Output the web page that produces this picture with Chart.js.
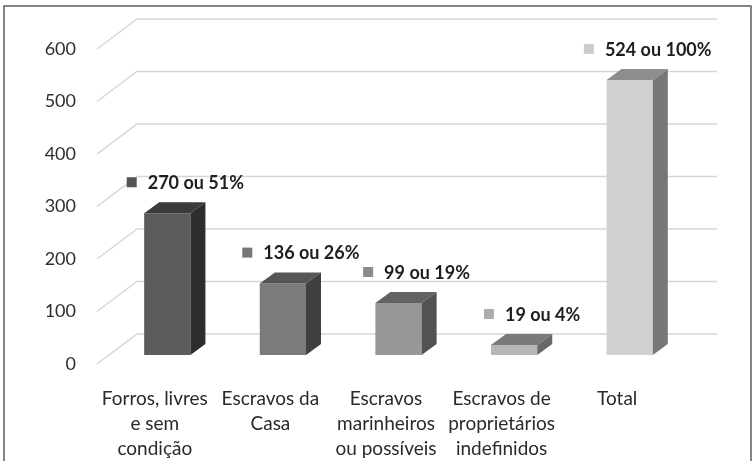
<!DOCTYPE html>
<html>
<head>
<meta charset="utf-8">
<script src="https://cdn.jsdelivr.net/npm/chart.js@4.4.1/dist/chart.umd.min.js"></script>
<style>
  html, body { margin: 0; padding: 0; background: #fff; }
  #wrap { width: 755px; height: 461px; }
</style>
</head>
<body>
<div id="wrap"><canvas id="grafico" width="755" height="461"></canvas></div>
<script>
// categorias (rótulos em várias linhas)
const categorias = [
    ['Forros, livres', 'e sem', 'condição'],
    ['Escravos da', 'Casa'],
    ['Escravos', 'marinheiros', 'ou possíveis'],
    ['Escravos de', 'proprietários', 'indefinidos'],
    'Total'
];
const valores = [270, 136, 99, 19, 524];
const percentuais = [51, 26, 19, 4, 100];
const yTicks = [0, 100, 200, 300, 400, 500, 600];

// cores: frente, topo e lado de cada barra
const corFrente = ['#5b5b5b', '#7b7b7b', '#979797', '#b6b6b6', '#d0d0d0'];
const corTopo = ['#3c3c3c', '#555555', '#626262', '#7a7a7a', '#8d8d8d'];
const corLado = ['#2d2d2d', '#404040', '#525252', '#686868', '#777777'];
const corMarca = ['#555555', '#777777', '#8a8a8a', '#adadad', '#cccccc'];

// profundidade do efeito 3D
const prof = { dx: 15, dy: -11 };
const desloc = { dx: 12.5, dy: -9 };

const efeito3d = {
    id: 'efeito3d',
    beforeDraw(chart) {
        const ctx = chart.ctx;
        const a = chart.chartArea;
        const y = chart.scales.y;
        ctx.save();
        // moldura
        ctx.strokeStyle = '#5c5c5c';
        ctx.lineWidth = 1.5;
        ctx.beginPath();
        ctx.moveTo(4, 461);
        ctx.lineTo(4, 6);
        ctx.lineTo(751, 6);
        ctx.lineTo(751, 461);
        ctx.stroke();
        // grade: parede do fundo
        ctx.strokeStyle = '#d6d6d6';
        ctx.lineWidth = 1.5;
        yTicks.forEach(v => {
            const py = y.getPixelForValue(v);
            ctx.beginPath();
            ctx.moveTo(a.left, py);
            ctx.lineTo(a.left + 40, py - 30);
            ctx.lineTo(a.right + 42, py - 30);
            ctx.stroke();
        });
        ctx.restore();
    },
    beforeDatasetsDraw(chart) {
        chart.ctx.save();
        chart.ctx.translate(desloc.dx, desloc.dy);
    },
    afterDatasetsDraw(chart) {
        const ctx = chart.ctx;
        chart.getDatasetMeta(0).data.forEach((bar, i) => {
            const l = bar.x - bar.width / 2, r = bar.x + bar.width / 2;
            const t = bar.y, b = bar.base;
            ctx.fillStyle = corTopo[i];
            ctx.beginPath();
            ctx.moveTo(l, t);
            ctx.lineTo(l + prof.dx, t + prof.dy);
            ctx.lineTo(r + prof.dx, t + prof.dy);
            ctx.lineTo(r, t);
            ctx.closePath();
            ctx.fill();
            ctx.fillStyle = corLado[i];
            ctx.beginPath();
            ctx.moveTo(r, t);
            ctx.lineTo(r + prof.dx, t + prof.dy);
            ctx.lineTo(r + prof.dx, b + prof.dy);
            ctx.lineTo(r, b);
            ctx.closePath();
            ctx.fill();
        });
        ctx.restore();
    },
    afterDraw(chart) {
        // rótulos de dados com marca quadrada
        const ctx = chart.ctx;
        ctx.save();
        ctx.font = 'bold 18px Lato';
        ctx.textBaseline = 'middle';
        ctx.textAlign = 'left';
        chart.getDatasetMeta(0).data.forEach((bar, i) => {
            const texto = valores[i] + ' ou ' + percentuais[i] + '%';
            const w = 10 + 11 + ctx.measureText(texto).width;
            const cx = bar.x + desloc.dx + 18;
            const cy = bar.y + desloc.dy - 31;
            const x0 = cx - w / 2;
            ctx.fillStyle = corMarca[i];
            ctx.fillRect(x0, cy - 5, 10, 10);
            ctx.fillStyle = '#1e1e1e';
            ctx.fillText(texto, x0 + 21, cy + 1);
        });
        ctx.restore();
    }
};

new Chart(document.getElementById('grafico'), {
    type: 'bar',
    data: {
        labels: categorias,
        datasets: [{
            data: valores,
            backgroundColor: corFrente,
            barPercentage: 0.4,
            categoryPercentage: 1
        }]
    },
    options: {
        responsive: false,
        animation: false,
        layout: { padding: { top: 49, right: 80, left: 0, bottom: 0 } },
        plugins: {
            legend: { display: false },
            tooltip: { enabled: false }
        },
        scales: {
            x: {
                grid: { display: false, drawTicks: false },
                border: { display: false },
                ticks: {
                    padding: 22,
                    color: '#2a2a2a',
                    autoSkip: false,
                    maxRotation: 0,
                    font: { family: 'Lato', size: 19, lineHeight: 1.32 }
                },
                afterFit(scale) { scale.height = 97; }
            },
            y: {
                min: 0,
                max: 600,
                grid: { display: false, drawTicks: false },
                border: { display: false },
                ticks: {
                    stepSize: 100,
                    padding: 21,
                    color: '#2e2e2e',
                    font: { family: 'Lato', size: 18 }
                },
                afterFit(scale) { scale.width = 97; }
            }
        }
    },
    plugins: [efeito3d]
});
</script>
</body>
</html>
